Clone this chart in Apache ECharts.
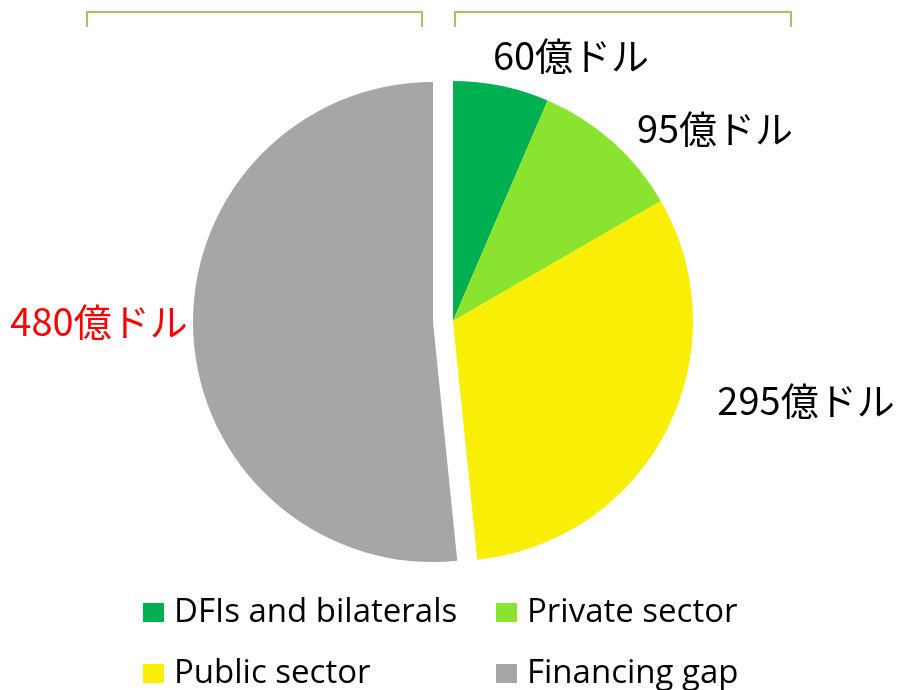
<!DOCTYPE html>
<html><head><meta charset="utf-8">
<script src="https://cdn.jsdelivr.net/npm/echarts@6/dist/echarts.min.js"></script>
<style>html,body{margin:0;padding:0;background:#fff}#c{width:903px;height:690px}</style>
</head><body><div id="c"></div>
<script>
const categories = ['DFIs and bilaterals', 'Private sector', 'Public sector', 'Financing gap'];
const values = [60, 95, 295, 480];
const labels = ['60億ドル', '95億ドル', '295億ドル', '480億ドル'];
const colors = ['#00B050', '#8AE32E', '#F9EE06', '#A6A6A6'];
const labelColors = ['#000', '#000', '#000', '#FF0000'];
const exploded = [false, false, false, true];
const labelPos = [[571, 56], [715, 129], [806, 401], [99, 322]];
const legendPos = [[143, 596], [496, 596], [143, 657], [496, 657]];

const chart = echarts.init(document.getElementById('c'));
const legendText = {fontFamily: '"Open Sans", Lato, sans-serif', fontSize: 33, lineHeight: 33, color: '#000', padding: [0, 0, 0, 5]};
const clear = 'rgba(0,0,0,0)';

function pieSeries(center, showExploded) {
  return {
    type: 'pie',
    center: center,
    radius: 240,
    startAngle: 90,
    silent: true,
    data: categories.map((c, i) => {
      const vis = exploded[i] === showExploded;
      return {
        name: c, value: values[i],
        itemStyle: {color: vis ? colors[i] : clear},
        label: {show: vis, color: labelColors[i]}
      };
    }),
    label: {
      position: 'outside', overflow: 'none',
      formatter: p => labels[p.dataIndex],
      fontFamily: '"Noto Sans CJK JP", sans-serif', fontSize: 38
    },
    labelLine: {show: false},
    labelLayout: p => {
      const pos = labelPos[p.dataIndex];
      const w = p.labelRect.width, h = p.labelRect.height;
      return {x: pos[0] - w / 2, y: pos[1] - h / 2, align: 'left', verticalAlign: 'top'};
    },
    emphasis: {disabled: true}
  };
}

chart.setOption({
  animation: false,
  legend: categories.map((c, i) => ({
    data: [{name: c, itemStyle: {color: colors[i]}}],
    left: legendPos[i][0], top: legendPos[i][1], padding: 0,
    itemWidth: 21, itemHeight: 19, icon: 'rect', textStyle: legendText, selectedMode: false
  })),
  graphic: [
    {type: 'polyline', shape: {points: [[87, 27], [87, 12], [422, 12], [422, 27]]},
     style: {stroke: '#9BCB5B', lineWidth: 2, fill: null}},
    {type: 'polyline', shape: {points: [[455, 27], [455, 12], [791, 12], [791, 27]]},
     style: {stroke: '#9BCB5B', lineWidth: 2, fill: null}}
  ],
  series: [
    pieSeries([453, 321], false),
    pieSeries([433, 322], true)
  ]
});
</script></body></html>
